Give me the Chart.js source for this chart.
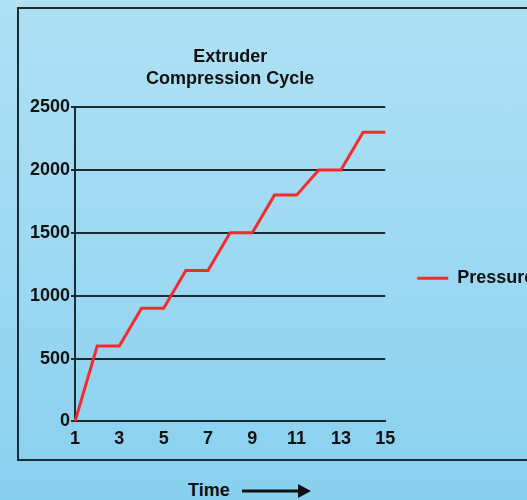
<!DOCTYPE html>
<html>
<head>
<meta charset="utf-8">
<script src="https://cdn.jsdelivr.net/npm/chart.js@4.4.1/dist/chart.umd.min.js"></script>
<style>
    html, body { margin: 0; padding: 0; width: 527px; height: 500px; overflow: hidden; }
    body {
        background: linear-gradient(to bottom, #afe1f4 0%, #9ed9f2 50%, #88d0ef 100%);
        font-family: "Liberation Sans", Arial, sans-serif;
        position: relative;
    }
    .frame {
        position: absolute; left: 17px; top: 7px;
        width: 700px; height: 450px;
        border: 2px solid #1c2a33;
    }
    .chart-wrap { position: absolute; left: 19px; top: 9px; width: 545px; height: 452px; }
    .time-label {
        position: absolute; left: 188px; top: 480px;
        font-weight: bold; font-size: 18px; color: #111;
        display: flex; align-items: center;
    }
    .time-label svg { margin-left: 12px; }
</style>
</head>
<body>
<div class="frame"></div>
<div class="chart-wrap"><canvas id="pressureChart"></canvas></div>
<div class="time-label">Time
    <svg width="70" height="16" viewBox="0 0 70 16">
        <line x1="0" y1="8" x2="60" y2="8" stroke="#111" stroke-width="3"/>
        <polygon points="56,1 69,8 56,15" fill="#111"/>
    </svg>
</div>
<script>
    // Chart data
    const timeLabels = ['1','2','3','4','5','6','7','8','9','10','11','12','13','14','15'];
    const pressureValues = [0, 600, 600, 900, 900, 1200, 1200, 1500, 1500, 1800, 1800, 2000, 2000, 2300, 2300];
    const titleLines = ['Extruder', 'Compression Cycle'];
    const yTicks = [0, 500, 1000, 1500, 2000, 2500];

    const ink = '#1c2a33';
    const boldFont = { family: '"Liberation Sans", Arial, sans-serif', size: 18, weight: 'bold' };

    // nudge the legend down to the middle of the plot and let its text run past the box
    const legendShift = {
        id: 'legendShift',
        afterLayout(chart) {
            if (chart.legend) {
                chart.legend.top += 14;
                chart.legend.bottom += 14;
                chart.legend.right += 80;
                chart.legend.width += 80;
            }
        }
    };

    const ctx = document.getElementById('pressureChart').getContext('2d');
    new Chart(ctx, {
        type: 'line',
        data: {
            labels: timeLabels,
            datasets: [{
                label: 'Pressure',
                data: pressureValues,
                borderColor: '#f52b2b',
                backgroundColor: '#f52b2b',
                borderWidth: 3,
                pointRadius: 0,
                tension: 0,
                fill: false
            }]
        },
        options: {
            responsive: true,
            maintainAspectRatio: false,
            animation: false,
            layout: { padding: { top: 20, left: 10, right: 60, bottom: 4 } },
            plugins: {
                title: {
                    display: true,
                    text: titleLines,
                    fullSize: false,
                    color: '#111',
                    font: Object.assign({}, boldFont, { lineHeight: 1.17 }),
                    padding: { top: 18, bottom: 18 }
                },
                legend: {
                    position: 'right',
                    fullSize: false,
                    labels: {
                        color: '#111',
                        font: boldFont,
                        usePointStyle: true,
                        pointStyle: 'line',
                        pointStyleWidth: 31,
                        padding: 32
                    }
                },
                tooltip: { enabled: false }
            },
            scales: {
                x: {
                    offset: false,
                    grid: { display: true, drawOnChartArea: false, drawTicks: false },
                    border: { display: true, color: ink, width: 2 },
                    ticks: {
                        autoSkip: false,
                        maxRotation: 0,
                        color: '#111',
                        font: boldFont,
                        padding: 7,
                        callback: function(value, index) {
                            return index % 2 === 0 ? timeLabels[index] : '';
                        }
                    }
                },
                y: {
                    min: yTicks[0],
                    max: yTicks[yTicks.length - 1],
                    grid: { color: ink, lineWidth: 2, tickLength: 4 },
                    border: { display: true, color: ink, width: 2 },
                    ticks: {
                        stepSize: 500,
                        color: '#111',
                        font: boldFont,
                        padding: 1,
                        callback: function(value) { return String(value); }
                    }
                }
            }
        },
        plugins: [legendShift]
    });
</script>
</body>
</html>
